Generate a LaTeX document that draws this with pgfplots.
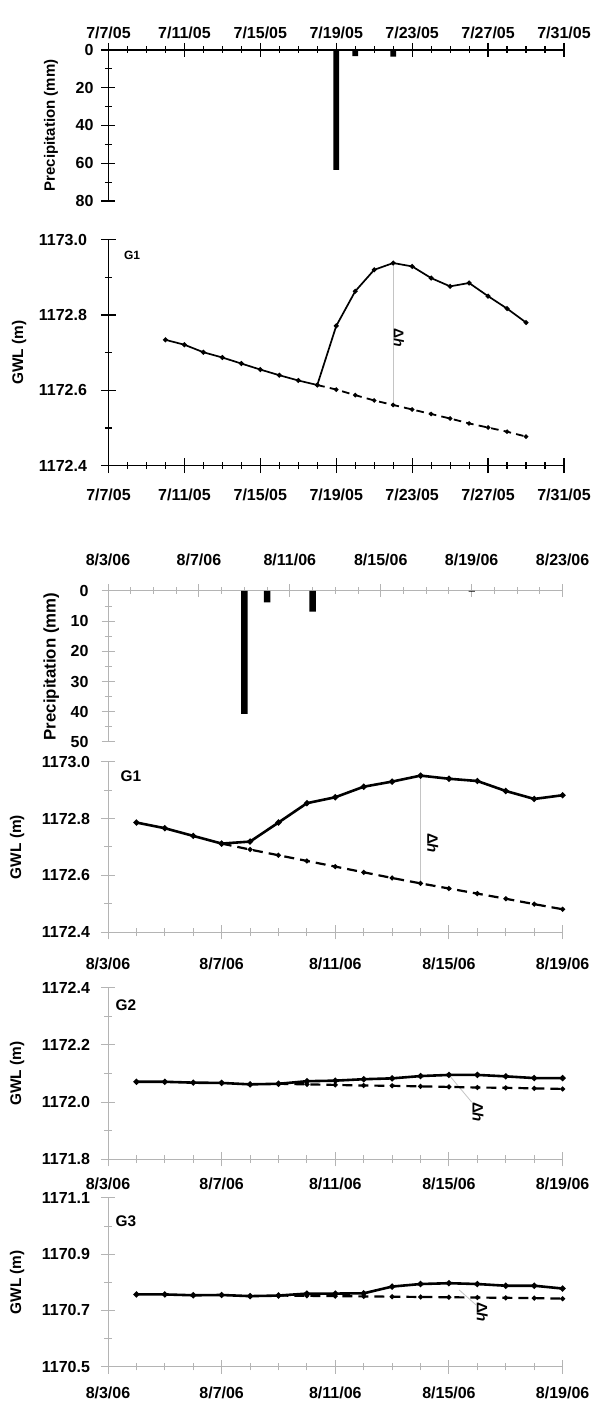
\documentclass[border=0pt]{standalone}
\usepackage{fontspec}
\setmainfont{Liberation Sans}
\usepackage{pgfplots}
\pgfplotsset{compat=1.18}
\begin{document}
\begin{tikzpicture}[x=1pt,y=1pt]
\definecolor{axgrey}{HTML}{B4B4B4}
\definecolor{hgrey}{HTML}{C4C4C4}
\tikzset{dh/.style={font=\fontsize{7.5}{9}\selectfont\bfseries,rotate=-90}}
\pgfplotsset{
  panel/.style={scale only axis,enlargelimits=false,clip=false,
    font=\fontsize{8}{9}\selectfont\bfseries,
    tick label style={font=\fontsize{8}{9}\selectfont\bfseries},
    /pgf/number format/assume math mode=true,
    tick align=outside,
    minor x tick num=3,minor y tick num=1},
  noarrow/.style={x axis line style={-},y axis line style={-}},
  y05/.style={xmin=7,xmax=31,xtick={7,11,15,19,23,27,31},
    xticklabels={7/7/05,7/11/05,7/15/05,7/19/05,7/23/05,7/27/05,7/31/05},
    axis line style={black,line width=0.6pt},tick style={black,line width=0.6pt}},
  y06/.style={xmin=3,xmax=19,xtick={3,7,11,15,19},
    xticklabels={8/3/06,8/7/06,8/11/06,8/15/06,8/19/06},
    axis line style={axgrey,line width=0.5pt},tick style={axgrey,line width=0.5pt},
    major tick length=7pt,minor tick length=3.8pt},
  gwl/.style={axis x line=bottom,axis y line=left,ylabel={GWL (m)},
    label style={font=\fontsize{7.7}{9}\selectfont\bfseries}},
  obs/.style={black,line width=1.3pt,mark=*,mark size=0.75pt},
  rec/.style={black,line width=1.1pt,dash pattern=on 5pt off 3pt,mark=*,mark size=0.6pt,mark options={solid}}
}

% 2005 precipitation
\begin{axis}[panel,y05,at={(54.25pt,602.5pt)},anchor=south west,width=227.75pt,height=75.5pt,
  axis x line=top,axis y line=left,ymin=-80,ymax=0,
  ytick={-80,-60,-40,-20,0},yticklabels={80,60,40,20,0},
  major tick length=7pt,minor tick length=3.5pt,
  xticklabel style={yshift=-1.5pt},yticklabel style={xshift=-0.5pt},
  ylabel={Precipitation (mm)},label style={font=\fontsize{7.5}{9}\selectfont\bfseries},
  ylabel style={at={(axis description cs:-0.126,0.5)},anchor=center},noarrow]
\addplot[ybar,bar width=0.3,fill=black,draw=none] coordinates {(19,-63.5) (20,-3.2) (22,-3.5) (26,-0.3)};
\end{axis}

% 2005 G1
\begin{axis}[panel,y05,gwl,at={(54.25pt,470.2pt)},anchor=south west,width=227.75pt,height=112.95pt,
  ymin=1172.4,ymax=1173.0,ytick={1172.4,1172.6,1172.8,1173.0},
  yticklabels={1172.4,1172.6,1172.8,1173.0},
  major tick length=7.5pt,minor tick length=3.5pt,
  xticklabel style={yshift=-4.5pt},yticklabel style={xshift=-3.5pt},
  ylabel style={at={(axis description cs:-0.196,0.5)},anchor=center},noarrow]
\addplot[hgrey,line width=0.4pt] coordinates {(22,1172.561) (22,1172.938)};
\addplot[rec,line width=0.9pt,dash pattern=on 3.8pt off 2.6pt] coordinates {(18,1172.614) (19,1172.602) (20,1172.587) (21,1172.573) (22,1172.561) (23,1172.549) (24,1172.537) (25,1172.525) (26,1172.512) (27,1172.501) (28,1172.490) (29,1172.477)};
\addplot[obs,line width=0.85pt] coordinates {(10,1172.734) (11,1172.721) (12,1172.701) (13,1172.687) (14,1172.671) (15,1172.655) (16,1172.640) (17,1172.626) (18,1172.614) (19,1172.771) (20,1172.863) (21,1172.920) (22,1172.938) (23,1172.929) (24,1172.898) (25,1172.876) (26,1172.885) (27,1172.850) (28,1172.817) (29,1172.780)};
\node[font=\fontsize{6}{7}\selectfont\bfseries] at (axis cs:8.24,1172.959) {G1};
\node[dh,font=\fontsize{7}{8}\selectfont\bfseries] at (axis cs:22.3,1172.74) {Δ\itshape h};
\end{axis}

% 2006 precipitation
\begin{axis}[panel,y06,at={(54pt,332pt)},anchor=south west,width=227.3pt,height=75.5pt,
  xmax=23,xtick={3,7,11,15,19,23},
  xticklabels={8/3/06,8/7/06,8/11/06,8/15/06,8/19/06,8/23/06},
  axis x line=top,axis y line=left,ymin=-50,ymax=0,
  ytick={-50,-40,-30,-20,-10,0},yticklabels={50,40,30,20,10,0},
  major tick length=6.5pt,minor tick length=3.5pt,
  xticklabel style={yshift=6pt},yticklabel style={xshift=-3pt},
  ylabel={Precipitation (mm)},label style={font=\fontsize{8.4}{10}\selectfont\bfseries},
  ylabel style={at={(axis description cs:-0.125,0.5)},anchor=center},noarrow]
\addplot[ybar,bar width=0.28,fill=black,draw=none] coordinates {(9,-40.7) (10,-3.8) (12,-6.8) (19,-0.2)};
\end{axis}

% 2006 G1
\begin{axis}[panel,y06,gwl,at={(54pt,236.85pt)},anchor=south west,width=227.3pt,height=85.3pt,
  ymin=1172.4,ymax=1173.0,ytick={1172.4,1172.6,1172.8,1173.0},
  yticklabels={1172.4,1172.6,1172.8,1173.0},
  xticklabel style={yshift=-6pt},yticklabel style={xshift=-2pt},
  ylabel style={at={(axis description cs:-0.2,0.5)},anchor=center},noarrow]
\addplot[hgrey,line width=0.4pt] coordinates {(14,1172.572) (14,1172.951)};
\addplot[rec] coordinates {(7,1172.712) (8,1172.691) (9,1172.671) (10,1172.651) (11,1172.631) (12,1172.611) (13,1172.591) (14,1172.572) (15,1172.554) (16,1172.536) (17,1172.518) (18,1172.499) (19,1172.481)};
\addplot[obs] coordinates {(4,1172.786) (5,1172.766) (6,1172.739) (7,1172.712) (8,1172.719) (9,1172.786) (10,1172.854) (11,1172.875) (12,1172.912) (13,1172.930) (14,1172.951) (15,1172.940) (16,1172.932) (17,1172.897) (18,1172.869) (19,1172.882)};
\node[font=\fontsize{7.7}{9}\selectfont\bfseries] at (axis cs:3.81,1172.950) {G1};
\node[dh] at (axis cs:14.43,1172.714) {Δ\itshape h};
\end{axis}

% 2006 G2
\begin{axis}[panel,y06,gwl,at={(54pt,123.35pt)},anchor=south west,width=227.3pt,height=85.8pt,
  ymin=1171.8,ymax=1172.4,ytick={1171.8,1172.0,1172.2,1172.4},
  yticklabels={1171.8,1172.0,1172.2,1172.4},
  xticklabel style={yshift=-2.5pt},yticklabel style={xshift=-2pt},
  ylabel style={at={(axis description cs:-0.2,0.5)},anchor=center},noarrow]
\addplot[hgrey,line width=0.4pt] coordinates {(15,1172.095) (15.8,1172.0)};
\addplot[rec] coordinates {(9,1172.064) (10,1172.062) (11,1172.060) (12,1172.058) (13,1172.057) (14,1172.055) (15,1172.053) (16,1172.051) (17,1172.050) (18,1172.048) (19,1172.046)};
\addplot[obs] coordinates {(4,1172.071) (5,1172.071) (6,1172.068) (7,1172.067) (8,1172.062) (9,1172.064) (10,1172.073) (11,1172.075) (12,1172.080) (13,1172.083) (14,1172.091) (15,1172.095) (16,1172.095) (17,1172.090) (18,1172.084) (19,1172.084)};
\node[font=\fontsize{7.7}{9}\selectfont\bfseries] at (axis cs:3.63,1172.338) {G2};
\node[dh] at (axis cs:16.02,1171.965) {Δ\itshape h};
\end{axis}

% 2006 G3
\begin{axis}[panel,y06,gwl,at={(54pt,19.65pt)},anchor=south west,width=227.3pt,height=84.35pt,
  ymin=1170.5,ymax=1171.1,ytick={1170.5,1170.7,1170.9,1171.1},
  yticklabels={1170.5,1170.7,1170.9,1171.1},
  xticklabel style={yshift=-3pt},yticklabel style={xshift=-2pt},
  ylabel style={at={(axis description cs:-0.2,0.5)},anchor=center},noarrow]
\addplot[hgrey,line width=0.4pt] coordinates {(15.36,1170.773) (15.96,1170.719)};
\addplot[rec] coordinates {(9,1170.753) (10,1170.752) (11,1170.751) (12,1170.750) (13,1170.749) (14,1170.748) (15,1170.747) (16,1170.746) (17,1170.745) (18,1170.744) (19,1170.742)};
\addplot[obs] coordinates {(4,1170.757) (5,1170.757) (6,1170.754) (7,1170.755) (8,1170.751) (9,1170.753) (10,1170.760) (11,1170.760) (12,1170.761) (13,1170.785) (14,1170.794) (15,1170.797) (16,1170.794) (17,1170.788) (18,1170.788) (19,1170.778)};
\node[font=\fontsize{7.7}{9}\selectfont\bfseries] at (axis cs:3.63,1171.016) {G3};
\node[dh] at (axis cs:16.17,1170.694) {Δ\itshape h};
\end{axis}
\path (0pt,0pt) rectangle (297pt,703pt);
\end{tikzpicture}
\end{document}
